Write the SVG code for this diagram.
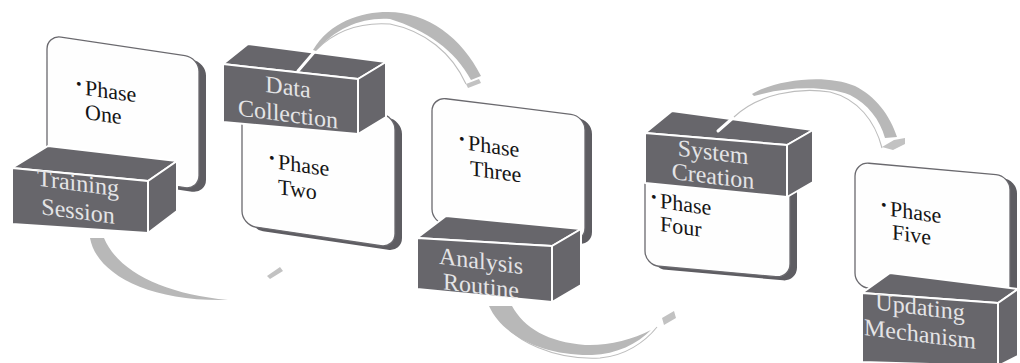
<svg xmlns="http://www.w3.org/2000/svg" width="1020" height="363" viewBox="0 0 1020 363">
  <style>
    .face { fill: #fefefe; stroke: #6a696e; stroke-width: 1.3; }
    .edge { fill: #5e5d62; }
    .blk { fill: #67666b; stroke: #ffffff; stroke-width: 2; stroke-linejoin: round; }
    .ptxt { font-family: "Liberation Serif", "Times New Roman", serif; font-size: 22px; fill: #151515; }
    .dot { font-family: "Liberation Serif", "Times New Roman", serif; font-size: 16px; fill: #151515; }
    .btxt { font-family: "Liberation Serif", "Times New Roman", serif; font-size: 24px; fill: #e4e4e6; text-anchor: middle; }
    .band { fill: #b8b8b8; }
    .tip { fill: #c2c2c2; }
    .rim { fill: none; stroke: #bdbdbd; stroke-width: 1.1; }
    .gap { fill: none; stroke: #ffffff; stroke-width: 3; stroke-linecap: round; }
  </style>

  <!-- Step 1: Phase One / Training Session -->
  <g id="node1">
    <g transform="translate(47,35) skewY(8.5)">
      <rect class="edge" x="7" y="3" width="152" height="132" rx="14"/>
      <rect class="face" x="0" y="0" width="152" height="132" rx="14"/>
    </g>
    <g transform="translate(85,95) skewY(8)">
      <text class="dot" x="-9" y="-5">•</text>
      <text class="ptxt" x="0" y="0">Phase</text>
      <text class="ptxt" x="0" y="24">One</text>
    </g>
    <polygon class="blk" points="12,168 48,146 177,161 148,181"/>
    <polygon class="blk" points="12,168 148,181 148,233 12,224"/>
    <polygon class="blk" points="148,181 177,161 177,211 148,233"/>
    <g transform="translate(78,191) skewY(7.5)">
      <text class="btxt" x="0" y="0">Training</text>
      <text class="btxt" x="0" y="28">Session</text>
    </g>
  </g>

  <!-- Step 2: Phase Two / Data Collection -->
  <g id="node2">
    <g transform="translate(242,93) skewY(8.5)">
      <rect class="edge" x="7" y="3" width="153" height="132" rx="14"/>
      <rect class="face" x="0" y="0" width="153" height="132" rx="14"/>
    </g>
    <g transform="translate(278,169) skewY(8)">
      <text class="dot" x="-9" y="-5">•</text>
      <text class="ptxt" x="0" y="0">Phase</text>
      <text class="ptxt" x="0" y="25">Two</text>
    </g>
    <polygon class="blk" points="223,64 248,44 386,62 358,79"/>
    <polygon class="blk" points="223,64 358,79 358,134 223,122"/>
    <polygon class="blk" points="358,79 386,62 386,117 358,134"/>
    <g transform="translate(288,95) skewY(7.5)">
      <text class="btxt" x="0" y="0">Data</text>
      <text class="btxt" x="0" y="27">Collection</text>
    </g>
  </g>

  <!-- Step 3: Phase Three / Analysis Routine -->
  <g id="node3">
    <g transform="translate(432,97) skewY(7.1)">
      <rect class="edge" x="7" y="3" width="153" height="126" rx="14"/>
      <rect class="face" x="0" y="0" width="153" height="126" rx="14"/>
    </g>
    <g transform="translate(468,150) skewY(8)">
      <text class="dot" x="-9" y="-5">•</text>
      <text class="ptxt" x="0" y="0">Phase</text>
      <text class="ptxt" x="2" y="25">Three</text>
    </g>
    <polygon class="blk" points="417,238 446,216 581,229 552,246"/>
    <polygon class="blk" points="417,238 552,246 552,302 417,289"/>
    <polygon class="blk" points="552,246 581,229 581,285 552,302"/>
    <g transform="translate(481,269) skewY(7)">
      <text class="btxt" x="0" y="0">Analysis</text>
      <text class="btxt" x="0" y="25">Routine</text>
    </g>
  </g>

  <!-- Step 4: Phase Four / System Creation -->
  <g id="node4">
    <g transform="translate(645,136) skewY(5.1)">
      <rect class="edge" x="7" y="3" width="145" height="129" rx="14"/>
      <rect class="face" x="0" y="0" width="145" height="129" rx="14"/>
    </g>
    <g transform="translate(660,208) skewY(8)">
      <text class="dot" x="-9" y="-5">•</text>
      <text class="ptxt" x="0" y="0">Phase</text>
      <text class="ptxt" x="0" y="23">Four</text>
    </g>
    <polygon class="blk" points="645,133 672,111 813,130 787,145"/>
    <polygon class="blk" points="645,133 787,145 787,197 645,183"/>
    <polygon class="blk" points="787,145 813,130 813,182 787,197"/>
    <g transform="translate(713,160) skewY(7)">
      <text class="btxt" x="0" y="0">System</text>
      <text class="btxt" x="0" y="24">Creation</text>
    </g>
  </g>

  <!-- Step 5: Phase Five / Updating Mechanism -->
  <g id="node5">
    <g transform="translate(855,162) skewY(5.1)">
      <rect class="edge" x="7" y="3" width="155" height="125" rx="14"/>
      <rect class="face" x="0" y="0" width="155" height="125" rx="14"/>
    </g>
    <g transform="translate(890,216) skewY(8)">
      <text class="dot" x="-9" y="-5">•</text>
      <text class="ptxt" x="0" y="0">Phase</text>
      <text class="ptxt" x="2" y="23">Five</text>
    </g>
    <polygon class="blk" points="862,293 890,273 1018,289 998,303"/>
    <polygon class="blk" points="862,293 998,303 998,366 862,362"/>
    <polygon class="blk" points="998,303 1018,289 1018,356 998,366"/>
    <g transform="translate(920,315) skewY(7)">
      <text class="btxt" x="0" y="0">Updating</text>
      <text class="btxt" x="0" y="27">Mechanism</text>
    </g>
  </g>

  <!-- Curved ribbon arrows between the steps -->
  <g id="connectors">
    <!-- 1 to 2, below -->
    <path class="band" d="M90,238 C96,272 145,302 228,300 C165,294 118,272 104,238 Z"/>
    <polygon class="tip" points="267,276 280,267 283,271 270,279"/>
    <!-- 2 to 3, above -->
    <path class="gap" d="M298,71 L316,50"/>
    <path class="rim" d="M316,50 C336,30 362,22 390,24 C425,31 452,53 466,84"/>
    <path class="band" d="M313,50 C330,22 360,12 388,12 C428,12 462,38 481,76 L471,80 C455,50 426,30 390,19 C362,17 336,28 316,51 Z"/>
    <polygon class="tip" points="466,84 479,79 481,83 468,88"/>
    <!-- 3 to 4, below -->
    <path class="rim" d="M493,307 C510,345 560,360 600,358 C625,356 645,342 657,327"/>
    <path class="band" d="M489,306 C503,337 545,356 592,355 C617,354 637,344 651,330 C632,340 607,346 585,345 C548,342 524,328 512,306 Z"/>
    <polygon class="tip" points="662,318 674,311 676,318 664,325"/>
    <!-- 4 to 5, above -->
    <path class="gap" d="M718,131 L734,117"/>
    <path class="rim" d="M734,117 C758,94 798,87 830,92 C858,99 875,121 882,148"/>
    <path class="band" d="M752,94 C775,80 825,73 855,86 C875,96 890,115 897,137 L885,138 C880,120 868,104 850,95 C825,86 790,86 754,96 Z"/>
    <polygon class="tip" points="882,147 894,140 905,138 905,144 893,150"/>
  </g>
</svg>
